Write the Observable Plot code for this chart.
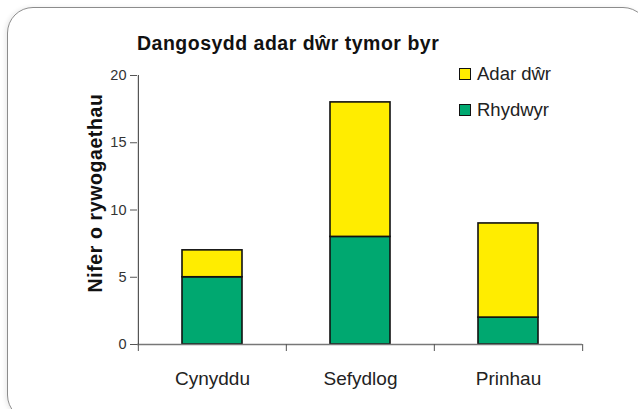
<!DOCTYPE html>
<html>
<head>
<meta charset="utf-8">
<script src="https://cdn.jsdelivr.net/npm/d3@7"></script>
<script src="https://cdn.jsdelivr.net/npm/@observablehq/plot@0.6"></script>
<style>
  html, body { margin: 0; padding: 0; background: #fff; }
  #wrap { position: relative; width: 638px; height: 409px; overflow: hidden; background: #fff;
          font-family: "Liberation Sans", Arial, sans-serif; }
  #box { position: absolute; left: 7px; top: 7px; width: 640px; height: 412px;
         border: 1.3px solid #8c8c8c; border-radius: 26px; box-shadow: -2px 0 4px rgba(0,0,0,0.08); }
  #chart { position: absolute; left: 0; top: 0; }
  #title { position: absolute; left: 137px; top: 32px; font-size: 19.5px; letter-spacing: 0.5px; font-weight: bold; color: #111; white-space: nowrap; line-height: 22px; }
  #ylabel { position: absolute; left: 95px; top: 193px; transform: translate(-50%, -50%) rotate(-90deg);
            font-size: 19.5px; letter-spacing: 0.6px; font-weight: bold; color: #111; white-space: nowrap; line-height: 22px; }
  .leg { position: absolute; left: 459px; display: flex; align-items: center; font-size: 18.5px; color: #222; white-space: nowrap; line-height: 22px; height: 22px; }
  .sw { width: 10px; height: 10px; border: 1.5px solid #111; margin-right: 6px; }
</style>
</head>
<body>
<div id="wrap">
  <div id="box"></div>
  <div id="chart"></div>
  <div id="title"></div>
  <div id="ylabel"></div>
  <div id="legend"></div>
</div>
<script>
const categories = ["Cynyddu", "Sefydlog", "Prinhau"];
const seriesNames = ["Rhydwyr", "Adar dŵr"];
const rhydwyr = [5, 8, 2];
const adarDwr = [2, 10, 7];
const yTicks = [0, 5, 10, 15, 20];
const seriesColors = ["#00A870", "#FFED00"];
const titleText = "Dangosydd adar dŵr tymor byr";
const yLabelText = "Nifer o rywogaethau";
const legendOrder = ["Adar dŵr", "Rhydwyr"];

const rows = [];
categories.forEach((c, i) => {
  rows.push({cat: c, series: seriesNames[0], value: rhydwyr[i]});
  rows.push({cat: c, series: seriesNames[1], value: adarDwr[i]});
});

const W = 638, H = 409;
const mL = 137, mR = 56, mT = 75, mB = 65;
const bw = (W - mL - mR) / categories.length;

const chart = Plot.plot({
  width: W, height: H,
  marginLeft: mL, marginRight: mR, marginTop: mT, marginBottom: mB,
  style: {fontFamily: "'Liberation Sans', Arial, sans-serif", background: "transparent"},
  x: {type: "band", domain: categories, padding: 0},
  y: {domain: [0, 20]},
  color: {domain: seriesNames, range: seriesColors},
  marks: [
    Plot.barY(rows, {x: "cat", y: "value", fill: "series", stroke: "#111", strokeWidth: 1.6,
                     insetLeft: 44, insetRight: 44, order: seriesNames}),
    Plot.ruleY([0], {stroke: "#777", strokeWidth: 1.5}),
    Plot.ruleX(categories.slice(0, 1), {x: d => d, dx: -bw / 2, y1: 0, y2: 20, stroke: "#333", strokeWidth: 1}),
    Plot.axisY({ticks: yTicks, tickSize: 7, tickPadding: 4, fontSize: 14.5, stroke: "#555", fill: "#333", label: null}),
    Plot.axisX({ticks: categories, tickSize: 7, tickFormat: () => "", dx: -bw / 2, stroke: "#555", label: null}),
    Plot.axisX({ticks: categories.slice(-1), tickSize: 7, tickFormat: () => "", dx: bw / 2, stroke: "#555", label: null}),
    Plot.text(categories, {x: d => d, y: 0, dy: 34, fontSize: 19, fill: "#222"})
  ]
});
document.getElementById("chart").appendChild(chart);
document.getElementById("title").textContent = titleText;
document.getElementById("ylabel").textContent = yLabelText;

const legTops = [63, 99];
const legend = document.getElementById("legend");
legendOrder.forEach((name, i) => {
  const d = document.createElement("div");
  d.className = "leg";
  d.style.top = legTops[i] + "px";
  const sw = document.createElement("div");
  sw.className = "sw";
  sw.style.background = seriesColors[seriesNames.indexOf(name)];
  const t = document.createElement("span");
  t.textContent = name;
  d.appendChild(sw); d.appendChild(t);
  legend.appendChild(d);
});
</script>
</body>
</html>
